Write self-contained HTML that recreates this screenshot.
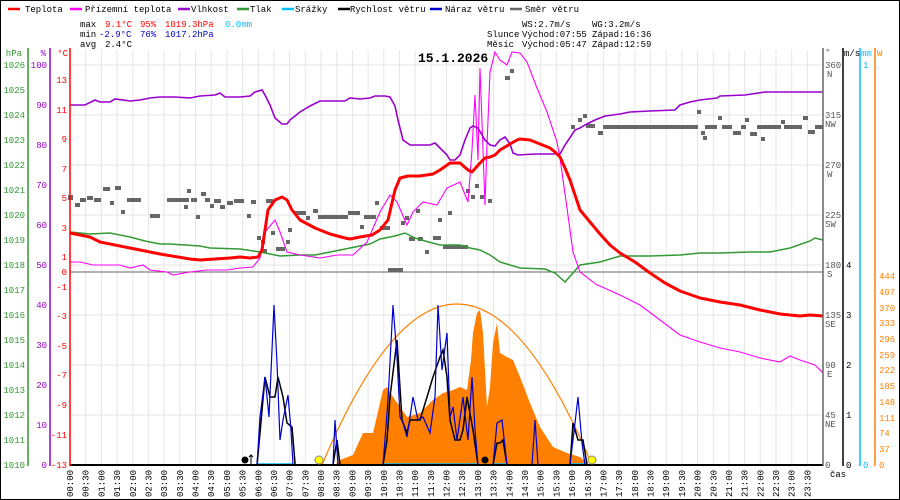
<!DOCTYPE html>
<html><head><meta charset="utf-8"><style>
html,body{margin:0;padding:0;background:#fff}
svg{display:block}
text{font-family:"Liberation Mono","DejaVu Sans Mono",monospace;font-size:9px}
</style></head><body>
<svg width="900" height="500" viewBox="0 0 900 500" xmlns="http://www.w3.org/2000/svg">
<rect x="0.5" y="0.5" width="899" height="499" fill="#fff" stroke="#000"/>
<g stroke="#e6e6e6" stroke-width="1">
<path d="M85.7 50V465M101.4 50V465M117.1 50V465M132.8 50V465M148.4 50V465M164.1 50V465M179.8 50V465M195.5 50V465M211.2 50V465M226.9 50V465M242.6 50V465M258.3 50V465M274 50V465M289.6 50V465M305.3 50V465M321 50V465M336.7 50V465M352.4 50V465M368.1 50V465M383.8 50V465M399.5 50V465M415.2 50V465M430.9 50V465M446.5 50V465M462.2 50V465M477.9 50V465M493.6 50V465M509.3 50V465M525 50V465M540.7 50V465M556.4 50V465M572.1 50V465M587.8 50V465M603.4 50V465M619.1 50V465M634.8 50V465M650.5 50V465M666.2 50V465M681.9 50V465M697.6 50V465M713.3 50V465M729 50V465M744.6 50V465M760.3 50V465M776 50V465M791.7 50V465M807.4 50V465"/>
<path d="M70 65H823M70 115H823M70 165H823M70 215H823M70 265H823M70 315H823M70 365H823M70 415H823"/>
</g>
<line x1="70" y1="272" x2="823" y2="272" stroke="#666"/>
<polygon fill="#ff8000" points="333,465 335,465 340,460 353,455 363,433 373,433 383,390 387,387 393,397 407,417 420,413 433,400 443,393 453,390 460,387 467,390 471,360 473,333 477,313 480,310 483,333 487,407 490,387 493,343 497,323 500,353 507,357 513,360 520,377 530,403 540,427 553,447 567,453 580,457 587,463 590,465"/>
<path fill="none" stroke="#ff8000" stroke-width="1.2" d="M322,465 Q457,143 592,465"/>
<g stroke="#00bfff" stroke-width="1.5"><path d="M257 464H293M383 464H478M493 464H507M570 464H587"/></g>
<polyline fill="none" stroke="#000" stroke-width="1.5" points="70,465 257,465 260,433 265,377 270,397 275,397 278,377 283,397 287,423 292,427 295,463 295,465 333,465 337,440 340,465 383,465 387,440 390,397 397,340 402,420 407,433 410,420 417,420 420,420 427,397 433,377 440,357 443,350 447,377 450,420 455,440 460,440 463,430 467,397 473,430 478,465 493,465 497,443 500,443 503,440 507,465 570,465 573,423 578,440 583,440 587,465 823,465"/>
<polyline fill="none" stroke="#0000cc" stroke-width="1.2" points="257,465 260,417 265,377 269,417 274,305 277,363 280,440 283,420 288,395 291,430 293,465"/>
<polyline fill="none" stroke="#0000cc" stroke-width="1.2" points="333,465 335,420 338,465"/>
<polyline fill="none" stroke="#0000cc" stroke-width="1.2" points="383,465 388,400 393,305 397,357 400,417 403,423 407,437 413,397 418,420 423,417 430,433 435,397 438,305 442,370 447,333 450,417 453,407 457,440 463,397 468,440 472,377 475,430 478,465"/>
<polyline fill="none" stroke="#0000cc" stroke-width="1.2" points="493,465 497,423 502,420 507,465 532,465 535,420 538,465 570,465 575,423 578,397 582,443 585,465"/>
<line x1="70" y1="465" x2="823" y2="465" stroke="#000" stroke-width="2"/>
<circle cx="245" cy="460" r="3.5" fill="#000"/>
<path d="M251 464V455M249 457L251 455 253 457" stroke="#000" fill="none"/>
<circle cx="319" cy="460" r="4" fill="#ffff00" stroke="#888"/>
<circle cx="592" cy="460" r="4" fill="#ffff00" stroke="#888"/>
<circle cx="485" cy="460" r="3.5" fill="#000"/>
<g fill="#666">
<rect x="68" y="195" width="5" height="5"/><rect x="75" y="203" width="5" height="4"/><rect x="80" y="198" width="6" height="4"/><rect x="87" y="196" width="6" height="4"/><rect x="94" y="198" width="7" height="4"/><rect x="103" y="187" width="7" height="4"/><rect x="110" y="201" width="4" height="4"/><rect x="115" y="186" width="6" height="4"/><rect x="121" y="210" width="4" height="4"/><rect x="127" y="198" width="14" height="4"/><rect x="150" y="214" width="10" height="4"/><rect x="167" y="198" width="22" height="4"/><rect x="184" y="205" width="4" height="4"/><rect x="187" y="189" width="4" height="4"/><rect x="191" y="198" width="6" height="4"/><rect x="196" y="215" width="4" height="4"/><rect x="201" y="192" width="5" height="4"/><rect x="205" y="198" width="5" height="4"/><rect x="210" y="204" width="4" height="4"/><rect x="214" y="199" width="7" height="4"/><rect x="220" y="205" width="5" height="4"/><rect x="227" y="201" width="6" height="4"/><rect x="234" y="199" width="10" height="4"/><rect x="247" y="214" width="4" height="4"/><rect x="251" y="200" width="5" height="4"/><rect x="257" y="236" width="4" height="4"/><rect x="261" y="240" width="4" height="4"/><rect x="263" y="249" width="4" height="4"/><rect x="266" y="199" width="7" height="4"/><rect x="271" y="231" width="4" height="4"/><rect x="276" y="247" width="9" height="4"/><rect x="286" y="240" width="4" height="4"/><rect x="288" y="228" width="4" height="4"/><rect x="294" y="211" width="12" height="4"/><rect x="306" y="216" width="4" height="4"/><rect x="313" y="209" width="5" height="4"/><rect x="318" y="215" width="30" height="4"/><rect x="348" y="211" width="12" height="4"/><rect x="360" y="225" width="4" height="4"/><rect x="364" y="215" width="12" height="4"/><rect x="375" y="201" width="4" height="4"/><rect x="380" y="226" width="10" height="4"/><rect x="388" y="268" width="15" height="4"/><rect x="401" y="221" width="4" height="4"/><rect x="405" y="216" width="4" height="4"/><rect x="409" y="237" width="6" height="4"/><rect x="416" y="209" width="4" height="4"/><rect x="418" y="237" width="5" height="4"/><rect x="425" y="250" width="4" height="4"/><rect x="433" y="236" width="8" height="4"/><rect x="438" y="218" width="4" height="4"/><rect x="443" y="245" width="25" height="4"/><rect x="448" y="211" width="4" height="4"/><rect x="466" y="189" width="4" height="4"/><rect x="471" y="195" width="4" height="4"/><rect x="475" y="184" width="4" height="4"/><rect x="480" y="195" width="4" height="4"/><rect x="488" y="199" width="4" height="4"/><rect x="505" y="76" width="5" height="4"/><rect x="510" y="69" width="4" height="4"/>
<rect x="571" y="125" width="4" height="4"/><rect x="578" y="118" width="4" height="4"/><rect x="583" y="114" width="4" height="4"/><rect x="586" y="124" width="9" height="4"/><rect x="598" y="131" width="5" height="4"/><rect x="603" y="125" width="95" height="4"/><rect x="697" y="110" width="4" height="4"/><rect x="701" y="131" width="4" height="4"/><rect x="703" y="136" width="4" height="4"/><rect x="705" y="125" width="12" height="4"/><rect x="718" y="116" width="4" height="4"/><rect x="722" y="125" width="10" height="4"/><rect x="733" y="131" width="8" height="4"/><rect x="745" y="118" width="4" height="4"/><rect x="741" y="125" width="5" height="4"/><rect x="750" y="132" width="7" height="4"/><rect x="761" y="137" width="4" height="4"/><rect x="757" y="125" width="24" height="4"/><rect x="781" y="120" width="4" height="4"/><rect x="784" y="125" width="18" height="4"/><rect x="803" y="116" width="5" height="4"/><rect x="808" y="130" width="7" height="4"/><rect x="815" y="125" width="8" height="4"/>
</g>
<polyline fill="none" stroke="#339933" stroke-width="1.5" points="70,232 90,234 110,233 130,237 145,241 160,244 170,244 200,246 210,248 240,249 260,252 280,256 300,255 315,255 330,252 345,249 360,246 370,244 380,239 395,236 405,233 415,238 425,241 440,245 460,245 470,248 480,250 490,255 500,262 520,268 545,269 555,273 565,282 580,265 600,262 620,256 650,256 680,255 700,253 720,253 750,252 770,252 790,248 810,241 815,238 823,240"/>
<polyline fill="none" stroke="#ff00ff" stroke-width="1.1" points="70,262 80,262 93,265 120,265 130,268 143,265 150,270 167,272 173,275 190,272 207,270 227,270 240,268 253,267 260,258 265,232 275,220 280,232 287,252 300,255 320,258 337,255 353,255 367,242 380,212 390,195 397,202 407,225 413,212 423,202 437,205 447,188 460,182 468,202 472,150 475,95 478,160 480,68 483,150 485,205 487,145 490,72 495,52 500,60 507,65 512,52 520,53 527,62 537,88 547,112 557,142 560,158 567,208 573,252 580,272 597,285 600,286 620,295 640,305 660,320 680,335 700,342 720,348 740,352 760,358 780,362 790,356 800,360 815,365 823,373"/>
<polyline fill="none" stroke="#9900cc" stroke-width="1.6" points="70,105 85,105 95,100 100,102 110,102 115,99 130,101 140,100 150,98 160,97 175,97 190,98 200,96 215,95 220,93 225,97 240,97 250,96 255,92 262,90 265,95 270,105 275,118 282,124 287,124 290,120 300,112 310,106 320,101 335,101 345,101 350,98 360,99 370,98 375,96 385,96 390,97 395,106 398,120 403,140 410,145 430,145 435,143 440,148 447,155 450,160 455,160 460,155 465,140 470,128 473,126 478,128 485,140 490,145 495,146 500,140 505,137 510,144 513,153 518,155 535,154 560,154 565,145 575,130 580,128 585,125 595,120 605,116 620,114 630,112 650,111 675,110 680,105 690,102 700,100 717,98 720,96 745,95 765,92 823,92"/>
<polyline fill="none" stroke="#ff0000" stroke-width="3" stroke-linejoin="round" points="70,233 90,237 100,242 130,248 160,254 190,259 200,260 230,258 240,257 250,258 258,257 262,250 268,210 275,200 282,197 287,200 292,210 300,220 315,228 330,234 345,238 350,239 360,237 372,235 380,230 388,220 395,190 400,178 408,176 420,176 433,174 440,170 450,163 460,163 468,170 472,172 480,163 485,158 490,157 495,155 500,150 510,144 517,140 520,139 530,140 540,144 550,148 555,152 560,157 565,168 570,180 575,195 580,210 590,222 600,234 610,245 620,253 635,262 650,273 665,283 680,291 700,298 720,302 740,305 760,310 780,314 800,316 810,315 823,316"/>
<g stroke-width="1.5">
<line x1="28" y1="48" x2="28" y2="466" stroke="#339933"/>
<line x1="50" y1="48" x2="50" y2="466" stroke="#9900cc"/>
<line x1="70" y1="48" x2="70" y2="466" stroke="#ff0000"/>
<line x1="823" y1="48" x2="823" y2="466" stroke="#666"/>
<line x1="843" y1="48" x2="843" y2="466" stroke="#000"/>
<line x1="860" y1="48" x2="860" y2="466" stroke="#00bfff"/>
<line x1="875" y1="48" x2="875" y2="466" stroke="#ff8000"/>
</g>
<g fill="#339933" text-anchor="end">
<text x="22" y="56">hPa</text>
<text x="25" y="68">1026</text><text x="25" y="93">1025</text><text x="25" y="118">1024</text><text x="25" y="143">1023</text><text x="25" y="168">1022</text><text x="25" y="193">1021</text><text x="25" y="218">1020</text><text x="25" y="243">1019</text><text x="25" y="268">1018</text><text x="25" y="293">1017</text><text x="25" y="318">1016</text><text x="25" y="343">1015</text><text x="25" y="368">1014</text><text x="25" y="393">1013</text><text x="25" y="418">1012</text><text x="25" y="443">1011</text><text x="25" y="468">1010</text>
</g>
<g fill="#9900cc" text-anchor="end">
<text x="46" y="56">%</text>
<text x="47" y="68">100</text><text x="47" y="108">90</text><text x="47" y="148">80</text><text x="47" y="188">70</text><text x="47" y="228">60</text><text x="47" y="268">50</text><text x="47" y="308">40</text><text x="47" y="348">30</text><text x="47" y="388">20</text><text x="47" y="428">10</text><text x="47" y="468">0</text>
</g>
<g fill="#ff0000" text-anchor="end">
<text x="68" y="56">°C</text>
<text x="67" y="83">13</text><text x="67" y="113">11</text><text x="67" y="142">9</text><text x="67" y="172">7</text><text x="67" y="201">5</text><text x="67" y="231">3</text><text x="67" y="260">1</text><text x="67" y="275">0</text><text x="67" y="290">-1</text><text x="67" y="319">-3</text><text x="67" y="349">-5</text><text x="67" y="378">-7</text><text x="67" y="408">-9</text><text x="67" y="438">-11</text><text x="67" y="468">-13</text>
</g>
<g fill="#555">
<text x="825" y="55">°</text>
<text x="825" y="68">360</text><text x="827" y="77">N</text>
<text x="825" y="118">315</text><text x="825" y="127">NW</text>
<text x="825" y="168">270</text><text x="827" y="177">W</text>
<text x="825" y="218">225</text><text x="825" y="227">SW</text>
<text x="825" y="268">180</text><text x="827" y="277">S</text>
<text x="825" y="318">135</text><text x="825" y="327">SE</text>
<text x="825" y="368">90</text><text x="827" y="377">E</text>
<text x="825" y="418">45</text><text x="825" y="427">NE</text>
<text x="825" y="468">0</text>
</g>
<g fill="#000">
<text x="844" y="56">m/s</text>
<text x="846" y="268">4</text><text x="846" y="318">3</text><text x="846" y="368">2</text><text x="846" y="418">1</text><text x="846" y="468">0</text>
<text x="830" y="477">čas</text>
</g>
<g fill="#00bfff"><text x="861" y="56">mm</text><text x="863" y="68">1</text><text x="863" y="468">0</text></g>
<g fill="#ff8000">
<text x="877" y="56">W</text>
<text x="879" y="279">444</text><text x="879" y="295">407</text><text x="879" y="311">370</text><text x="879" y="326">333</text><text x="879" y="342">296</text><text x="879" y="358">259</text><text x="879" y="373">222</text><text x="879" y="389">185</text><text x="879" y="405">148</text><text x="879" y="421">111</text><text x="879" y="436">74</text><text x="879" y="452">37</text><text x="879" y="468">0</text>
</g>
<g stroke-width="2.5">
<line x1="8" y1="9" x2="20" y2="9" stroke="#ff0000"/>
<line x1="70" y1="9" x2="82" y2="9" stroke="#ff00ff"/>
<line x1="178" y1="9" x2="190" y2="9" stroke="#9900cc"/>
<line x1="237" y1="9" x2="249" y2="9" stroke="#339933"/>
<line x1="282" y1="9" x2="294" y2="9" stroke="#00bfff"/>
<line x1="338" y1="9" x2="350" y2="9" stroke="#000"/>
<line x1="430" y1="9" x2="442" y2="9" stroke="#0000cc"/>
<line x1="510" y1="9" x2="522" y2="9" stroke="#666"/>
</g>
<g fill="#000">
<text x="25" y="12">Teplota</text><text x="85" y="12">Přízemní teplota</text><text x="191" y="12">Vlhkost</text><text x="250" y="12">Tlak</text><text x="295" y="12">Srážky</text><text x="350" y="12">Rychlost větru</text><text x="445" y="12">Náraz větru</text><text x="525" y="12">Směr větru</text>
<text x="80" y="27">max</text><text x="80" y="37">min</text><text x="80" y="47">avg</text>
<text x="105" y="47">2.4°C</text>
<text x="522" y="27">WS:2.7m/s</text><text x="592" y="27">WG:3.2m/s</text>
<text x="487" y="37">Slunce</text><text x="522" y="37">Východ:07:55</text><text x="592" y="37">Západ:16:36</text>
<text x="487" y="47">Měsíc</text><text x="522" y="47">Východ:05:47</text><text x="592" y="47">Západ:12:59</text>
<text x="418" y="62" style="font-size:13px;font-weight:bold">15.1.2026</text>
</g>
<g fill="#ff0000"><text x="105" y="27">9.1°C</text><text x="140" y="27">95%</text><text x="165" y="27">1019.3hPa</text></g>
<text x="225" y="27" fill="#00bfff">0.0mm</text>
<g fill="#0000cc"><text x="99" y="37">-2.9°C</text><text x="140" y="37">76%</text><text x="165" y="37">1017.2hPa</text></g>
<g fill="#000">
<text transform="translate(73,497) rotate(-90)">00:00</text><text transform="translate(88.7,497) rotate(-90)">00:30</text><text transform="translate(104.4,497) rotate(-90)">01:00</text><text transform="translate(120.1,497) rotate(-90)">01:30</text><text transform="translate(135.8,497) rotate(-90)">02:00</text><text transform="translate(151.4,497) rotate(-90)">02:30</text><text transform="translate(167.1,497) rotate(-90)">03:00</text><text transform="translate(182.8,497) rotate(-90)">03:30</text><text transform="translate(198.5,497) rotate(-90)">04:00</text><text transform="translate(214.2,497) rotate(-90)">04:30</text><text transform="translate(229.9,497) rotate(-90)">05:00</text><text transform="translate(245.6,497) rotate(-90)">05:30</text><text transform="translate(261.3,497) rotate(-90)">06:00</text><text transform="translate(277,497) rotate(-90)">06:30</text><text transform="translate(292.6,497) rotate(-90)">07:00</text><text transform="translate(308.3,497) rotate(-90)">07:30</text><text transform="translate(324,497) rotate(-90)">08:00</text><text transform="translate(339.7,497) rotate(-90)">08:30</text><text transform="translate(355.4,497) rotate(-90)">09:00</text><text transform="translate(371.1,497) rotate(-90)">09:30</text><text transform="translate(386.8,497) rotate(-90)">10:00</text><text transform="translate(402.5,497) rotate(-90)">10:30</text><text transform="translate(418.2,497) rotate(-90)">11:00</text><text transform="translate(433.9,497) rotate(-90)">11:30</text><text transform="translate(449.5,497) rotate(-90)">12:00</text><text transform="translate(465.2,497) rotate(-90)">12:30</text><text transform="translate(480.9,497) rotate(-90)">13:00</text><text transform="translate(496.6,497) rotate(-90)">13:30</text><text transform="translate(512.3,497) rotate(-90)">14:00</text><text transform="translate(528,497) rotate(-90)">14:30</text><text transform="translate(543.7,497) rotate(-90)">15:00</text><text transform="translate(559.4,497) rotate(-90)">15:30</text><text transform="translate(575.1,497) rotate(-90)">16:00</text><text transform="translate(590.8,497) rotate(-90)">16:30</text><text transform="translate(606.4,497) rotate(-90)">17:00</text><text transform="translate(622.1,497) rotate(-90)">17:30</text><text transform="translate(637.8,497) rotate(-90)">18:00</text><text transform="translate(653.5,497) rotate(-90)">18:30</text><text transform="translate(669.2,497) rotate(-90)">19:00</text><text transform="translate(684.9,497) rotate(-90)">19:30</text><text transform="translate(700.6,497) rotate(-90)">20:00</text><text transform="translate(716.3,497) rotate(-90)">20:30</text><text transform="translate(732,497) rotate(-90)">21:00</text><text transform="translate(747.6,497) rotate(-90)">21:30</text><text transform="translate(763.3,497) rotate(-90)">22:00</text><text transform="translate(779,497) rotate(-90)">22:30</text><text transform="translate(794.7,497) rotate(-90)">23:00</text><text transform="translate(810.4,497) rotate(-90)">23:30</text>
</g>
</svg>
</body></html>
